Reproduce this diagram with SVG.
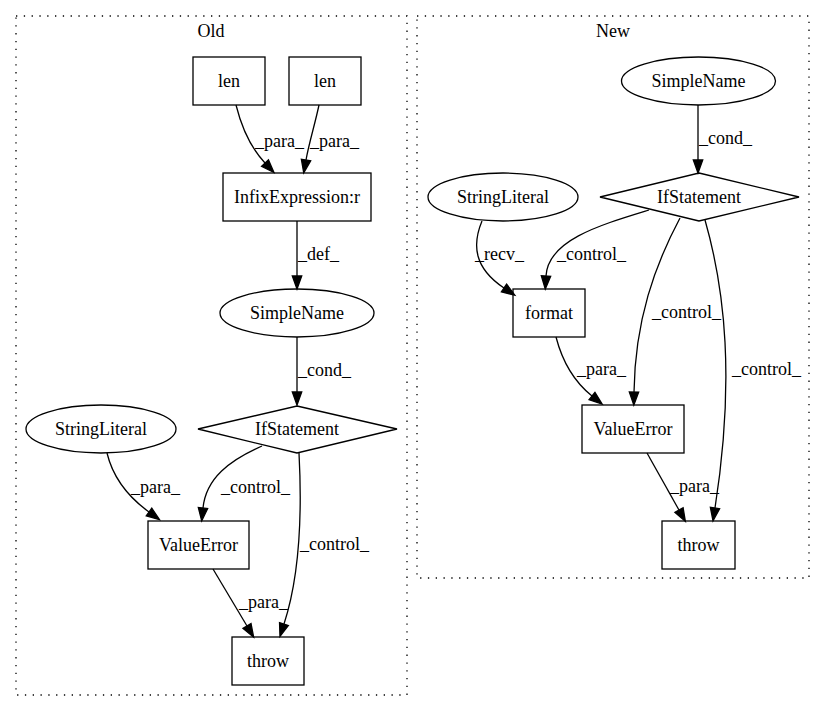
<svg xmlns="http://www.w3.org/2000/svg" width="824" height="712" viewBox="0 0 824 712">
<style>
text{font-family:"Liberation Serif","Times New Roman",serif;font-size:18px;fill:#000}
.n{fill:none;stroke:#000;stroke-width:1.3}
.c{fill:none;stroke:#000;stroke-width:1.3;stroke-dasharray:1.3,6.5}
.e{fill:none;stroke:#000;stroke-width:1.3;marker-end:url(#ah)}
.m{text-anchor:middle}
</style>
<defs>
<marker id="ah" markerUnits="userSpaceOnUse" markerWidth="14" markerHeight="10" refX="0" refY="4.7" orient="auto" overflow="visible">
<path d="M0,0 L13,4.7 L0,9.4 z" fill="#000" stroke="#000" stroke-width="1.3"/>
</marker>
</defs>
<rect width="824" height="712" fill="#fff"/>
<g id="cluster_old">
<rect class="c" x="16" y="16" width="391" height="679"/>
<text class="m" x="211" y="37">Old</text>
</g>
<g id="cluster_new">
<rect class="c" x="417" y="16" width="392" height="562"/>
<text class="m" x="613" y="37">New</text>
</g>
<g id="connectors">
<path class="e" d="M236,105 C241,125 249,146 265,163"/>
<text x="255" y="147">_para_</text>
<path class="e" d="M319,105 C315,124 309,143 306,160"/>
<text x="310" y="147">_para_</text>
<path class="e" d="M297,221 L297,276"/>
<text x="298" y="260">_def_</text>
<path class="e" d="M297,337 L297,392"/>
<text x="298" y="376">_cond_</text>
<path class="e" d="M107,453 C113,478 127,496 149,512"/>
<text x="131" y="493">_para_</text>
<path class="e" d="M262,446 C230,460 206,478 203,508"/>
<text x="221" y="493">_control_</text>
<path class="e" d="M299,453 C302,510 300,575 284,624"/>
<text x="300" y="550">_control_</text>
<path class="e" d="M213,569 L247,626"/>
<text x="239" y="608">_para_</text>
<path class="e" d="M698,105 L698,160"/>
<text x="699" y="144">_cond_</text>
<path class="e" d="M482,221 C472,245 474,268 504,288"/>
<text x="475" y="260">_recv_</text>
<path class="e" d="M649,210 C600,225 548,240 546,276"/>
<text x="557" y="260">_control_</text>
<path class="e" d="M680,218 C655,265 635,320 634,392"/>
<text x="652" y="318">_control_</text>
<path class="e" d="M705,220 C725,290 735,380 715,508"/>
<text x="732" y="375">_control_</text>
<path class="e" d="M556,337 C563,364 577,384 592,396"/>
<text x="577" y="375">_para_</text>
<path class="e" d="M647,453 L679,510"/>
<text x="670" y="492">_para_</text>
</g>
<g id="old_len1"><rect class="n" x="193" y="57" width="72" height="48"/><text class="m" x="229" y="87">len</text></g>
<g id="old_len2"><rect class="n" x="289" y="57" width="72" height="48"/><text class="m" x="325" y="87">len</text></g>
<g id="old_infix"><rect class="n" x="223" y="173" width="148" height="48"/><text class="m" x="297" y="203">InfixExpression:r</text></g>
<g id="old_simplename"><ellipse class="n" cx="297" cy="313" rx="77" ry="24"/><text class="m" x="297" y="319">SimpleName</text></g>
<g id="old_if"><polygon class="n" points="297,406 397,429 297,453 198,429"/><text class="m" x="297" y="435">IfStatement</text></g>
<g id="old_stringliteral"><ellipse class="n" cx="101" cy="429" rx="75" ry="24"/><text class="m" x="101" y="435">StringLiteral</text></g>
<g id="old_valueerror"><rect class="n" x="148" y="521" width="101" height="48"/><text class="m" x="198.5" y="551">ValueError</text></g>
<g id="old_throw"><rect class="n" x="232" y="637" width="72" height="48"/><text class="m" x="268" y="667">throw</text></g>
<g id="new_simplename"><ellipse class="n" cx="698.5" cy="81" rx="77" ry="24"/><text class="m" x="698.5" y="87">SimpleName</text></g>
<g id="new_if"><polygon class="n" points="699,173 799,197 699,221 600,197"/><text class="m" x="699" y="203">IfStatement</text></g>
<g id="new_stringliteral"><ellipse class="n" cx="503" cy="197" rx="75" ry="24"/><text class="m" x="503" y="203">StringLiteral</text></g>
<g id="new_format"><rect class="n" x="513" y="289" width="72" height="48"/><text class="m" x="549" y="319">format</text></g>
<g id="new_valueerror"><rect class="n" x="582" y="405" width="102" height="48"/><text class="m" x="633" y="435">ValueError</text></g>
<g id="new_throw"><rect class="n" x="662" y="521" width="73" height="48"/><text class="m" x="698.5" y="551">throw</text></g>
</svg>
